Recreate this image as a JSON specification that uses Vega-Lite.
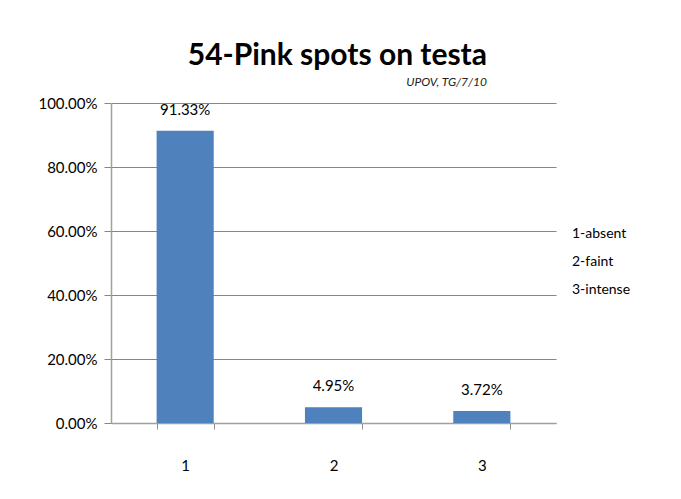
{
  "$schema": "https://vega.github.io/schema/vega-lite/v6.json",
  "width": 445,
  "height": 320,
  "autosize": {"type": "none"},
  "padding": {"left": 111, "top": 103, "right": 125, "bottom": 76},
  "background": "white",
  "config": {"view": {"stroke": null}},
  "title": {
    "text": "54-Pink spots on testa",
    "subtitle": "UPOV, TG/7/10",
    "anchor": "end",
    "frame": "group",
    "dx": -69,
    "offset": 8,
    "font": "Lato",
    "fontSize": 30,
    "fontWeight": "bold",
    "color": "#000000",
    "subtitleFont": "Lato",
    "subtitleFontSize": 12,
    "subtitleFontStyle": "italic",
    "subtitleColor": "#222222",
    "subtitlePadding": 6
  },
  "data": {
    "values": [
      {"code": "1", "share": 0.9133, "desc": "1-absent"},
      {"code": "2", "share": 0.0495, "desc": "2-faint"},
      {"code": "3", "share": 0.0372, "desc": "3-intense"}
    ]
  },
  "encoding": {
    "x": {
      "field": "code",
      "type": "nominal",
      "scale": {"paddingInner": 0.615, "paddingOuter": 0.3075},
      "axis": {
        "title": null,
        "labelAngle": 0,
        "tickBand": "extent",
        "tickSize": 6,
        "tickColor": "#8c8c8c",
        "domainColor": "#a0a0a0",
        "domainWidth": 1.5,
        "labelPadding": 29,
        "labelFont": "Lato",
        "labelFontSize": 15,
        "labelColor": "#000000"
      }
    },
    "y": {
      "field": "share",
      "type": "quantitative",
      "scale": {"domain": [0, 1], "nice": false},
      "axis": {
        "title": null,
        "values": [0, 0.2, 0.4, 0.6, 0.8, 1],
        "format": ".2%",
        "grid": true,
        "gridColor": "#868686",
        "gridWidth": 1,
        "tickSize": 7,
        "tickColor": "#868686",
        "domainColor": "#a0a0a0",
        "domainWidth": 1.5,
        "labelPadding": 7,
        "labelFont": "Lato",
        "labelFontSize": 15,
        "labelColor": "#000000"
      }
    }
  },
  "layer": [
    {
      "mark": {"type": "bar", "color": "#4F81BD"},
      "encoding": {
        "color": {
          "field": "desc",
          "type": "nominal",
          "scale": {"domain": ["1-absent", "2-faint", "3-intense"], "range": ["#4F81BD", "#4F81BD", "#4F81BD"]},
          "legend": {
            "title": null,
            "orient": "none",
            "legendX": 447,
            "legendY": 124,
            "padding": 0,
            "symbolSize": 0,
            "symbolOpacity": 0,
            "symbolStrokeWidth": 0,
            "labelOffset": 0,
            "rowPadding": 14,
            "labelFont": "Lato",
            "labelFontSize": 14,
            "labelColor": "#000000"
          }
        }
      }
    },
    {
      "mark": {"type": "text", "baseline": "bottom", "dy": -13, "font": "Lato", "fontSize": 15, "color": "#000000"},
      "encoding": {
        "text": {"field": "share", "type": "quantitative", "format": ".2%"}
      }
    }
  ]
}
